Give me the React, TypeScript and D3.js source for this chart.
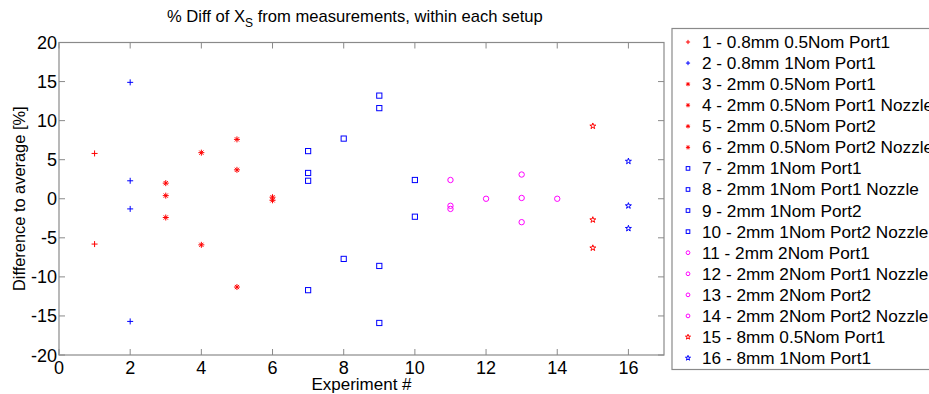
import React from "react";
import * as d3 from "d3";

const seriesNames = [
  "1 - 0.8mm 0.5Nom Port1",
  "2 - 0.8mm 1Nom Port1",
  "3 - 2mm 0.5Nom Port1",
  "4 - 2mm 0.5Nom Port1 Nozzle",
  "5 - 2mm 0.5Nom Port2",
  "6 - 2mm 0.5Nom Port2 Nozzle",
  "7 - 2mm 1Nom Port1",
  "8 - 2mm 1Nom Port1 Nozzle",
  "9 - 2mm 1Nom Port2",
  "10 - 2mm 1Nom Port2 Nozzle",
  "11 - 2mm 2Nom Port1",
  "12 - 2mm 2Nom Port1 Nozzle",
  "13 - 2mm 2Nom Port2",
  "14 - 2mm 2Nom Port2 Nozzle",
  "15 - 8mm 0.5Nom Port1",
  "16 - 8mm 1Nom Port1",
];

const seriesValues: number[][] = [
  [5.8, -5.8],
  [14.9, 2.3, -1.3, -15.7],
  [2.0, 0.4, -2.4],
  [5.9, -5.9],
  [7.6, 3.7, -11.3],
  [0.2, -0.2],
  [6.1, 3.3, 2.3, -11.7],
  [7.7, -7.7],
  [13.2, 11.6, -8.6, -15.9],
  [2.4, -2.3],
  [2.4, -0.9, -1.3],
  [0.0],
  [3.1, 0.1, -3.0],
  [0.0],
  [9.3, -2.7, -6.3],
  [4.8, -0.9, -3.8],
];

const seriesMarkers = ["+", "+", "*", "*", "*", "*", "s", "s", "s", "s", "o", "o", "o", "o", "p", "p"];
const seriesColors = [
  "#ff0000", "#0000ff", "#ff0000", "#ff0000", "#ff0000", "#ff0000",
  "#0000ff", "#0000ff", "#0000ff", "#0000ff",
  "#ff00ff", "#ff00ff", "#ff00ff", "#ff00ff",
  "#ff0000", "#0000ff",
];

const xTicks = [0, 2, 4, 6, 8, 10, 12, 14, 16];
const yTicks = [-20, -15, -10, -5, 0, 5, 10, 15, 20];

const W = 929;
const H = 394;
const left = 59;
const right = 664;
const top = 42.5;
const bottom = 355;

const x = d3.scaleLinear().domain([0, 17]).range([left, right]);
const y = d3.scaleLinear().domain([-20, 20]).range([bottom, top]);

const starPath = d3.symbol().type(d3.symbolStar).size(11)() as string;
const starPathSmall = d3.symbol().type(d3.symbolStar).size(8)() as string;

function Marker({ kind, color, cx, cy, s = 1 }: { kind: string; color: string; cx: number; cy: number; s?: number }) {
  const r = 3 * s;
  const common = { stroke: color, strokeWidth: 1, fill: "none" };
  if (kind === "+") {
    return <path d={`M${cx - r},${cy}H${cx + r}M${cx},${cy - r}V${cy + r}`} {...common} />;
  }
  if (kind === "*") {
    const d = r * 0.7;
    return (
      <path
        d={`M${cx - r},${cy}H${cx + r}M${cx},${cy - r}V${cy + r}M${cx - d},${cy - d}L${cx + d},${cy + d}M${cx - d},${cy + d}L${cx + d},${cy - d}`}
        {...common}
      />
    );
  }
  if (kind === "s") {
    const h = 2.6 * s;
    return <rect x={cx - h} y={cy - h} width={2 * h} height={2 * h} {...common} />;
  }
  if (kind === "o") {
    return <circle cx={cx} cy={cy} r={2.7 * s} {...common} />;
  }
  return <path d={s < 1 ? starPathSmall : starPath} transform={`translate(${cx},${cy})`} {...common} />;
}

export default function App() {
  const axisColor = "#8a8a8a";
  const tickLen = 6;
  const font = "Liberation Sans, Arial, sans-serif";
  const legendX = 672;
  const legendTop = 28.5;
  const legendBottom = 369.5;
  const rowH = 21.07;
  const row0 = 42;

  return (
    <svg
      width={W}
      height={H}
      style={{ position: "absolute", left: 0, top: 0, display: "block", background: "#fff" }}
      fontFamily={font}
    >
      <rect x={0} y={0} width={W} height={H} fill="#fff" />
      {/* title */}
      <text x={167} y={22} fontSize={16.6} fill="#000">
        % Diff of X
        <tspan fontSize={12} dy={5}>S</tspan>
        <tspan dy={-5}> from measurements, within each setup</tspan>
      </text>

      {/* axes box */}
      <rect x={left} y={top} width={right - left} height={bottom - top} fill="none" stroke={axisColor} strokeWidth={1.2} />
      {xTicks.map((t) => (
        <g key={"xt" + t}>
          <line x1={x(t)} x2={x(t)} y1={bottom} y2={bottom - tickLen} stroke={axisColor} />
          <line x1={x(t)} x2={x(t)} y1={top} y2={top + tickLen} stroke={axisColor} />
          <text x={x(t)} y={bottom + 19} fontSize={18} textAnchor="middle" fill="#000">
            {t}
          </text>
        </g>
      ))}
      {yTicks.map((t) => (
        <g key={"yt" + t}>
          <line x1={left} x2={left + tickLen} y1={y(t)} y2={y(t)} stroke={axisColor} />
          <line x1={right} x2={right - tickLen} y1={y(t)} y2={y(t)} stroke={axisColor} />
          <text x={left - 2} y={y(t) + 6.5} fontSize={18} textAnchor="end" fill="#000">
            {t}
          </text>
        </g>
      ))}

      {/* axis labels */}
      <text x={(left + right) / 2} y={389.5} fontSize={17} textAnchor="middle" fill="#000">
        Experiment #
      </text>
      <text
        transform={`translate(25,${(top + bottom) / 2}) rotate(-90)`}
        fontSize={16.4}
        textAnchor="middle"
        fill="#000"
      >
        Difference to average [%]
      </text>

      {/* data */}
      {seriesValues.map((vals, i) => (
        <g key={"s" + i}>
          {vals.map((v, j) => (
            <Marker key={j} kind={seriesMarkers[i]} color={seriesColors[i]} cx={x(i + 1)} cy={y(v)} />
          ))}
        </g>
      ))}

      {/* legend */}
      <rect
        x={legendX}
        y={legendTop}
        width={W - legendX + 20}
        height={legendBottom - legendTop}
        fill="#fff"
        stroke={axisColor}
        strokeWidth={1.2}
      />
      {seriesNames.map((name, i) => {
        const cy = row0 + i * rowH;
        return (
          <g key={"l" + i}>
            <Marker kind={seriesMarkers[i]} color={seriesColors[i]} cx={688} cy={cy} s={0.7} />
            <text x={702} y={cy + 6} fontSize={17.2} fill="#000">
              {name}
            </text>
          </g>
        );
      })}
    </svg>
  );
}
